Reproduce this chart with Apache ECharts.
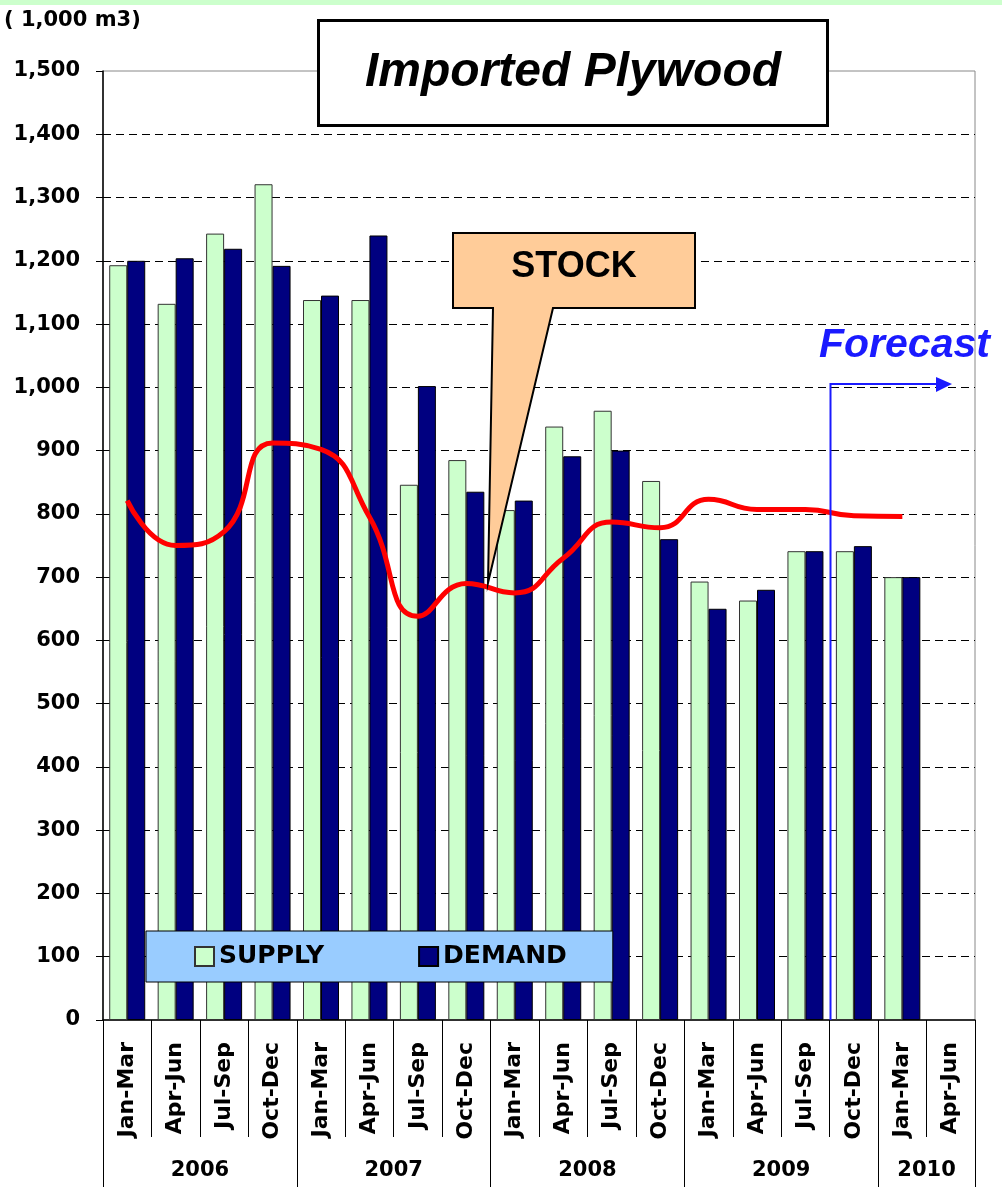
<!DOCTYPE html>
<html>
<head>
<meta charset="utf-8">
<title>Imported Plywood</title>
<script src="https://cdn.jsdelivr.net/npm/echarts@6/dist/echarts.min.js"></script>
<style>
  html, body { margin: 0; padding: 0; background: #fff; }
  #plywood { width: 1002px; height: 1192px; }
</style>
</head>
<body>
<div id="plywood"></div>
<script>
// quarters 2006 Q1 .. 2010 Q2
const quarters = ['Jan-Mar', 'Apr-Jun', 'Jul-Sep', 'Oct-Dec',
                  'Jan-Mar', 'Apr-Jun', 'Jul-Sep', 'Oct-Dec',
                  'Jan-Mar', 'Apr-Jun', 'Jul-Sep', 'Oct-Dec',
                  'Jan-Mar', 'Apr-Jun', 'Jul-Sep', 'Oct-Dec',
                  'Jan-Mar', 'Apr-Jun'];
const years = ['2006', '2007', '2008', '2009', '2010'];
const yearBounds = [0, 4, 8, 12, 16, 18];     // year separators, in quarter units
const yearCenters = [2, 6, 10, 14, 17];

const supply = [1193, 1132, 1243, 1321, 1138, 1138, 846, 885, 806, 938, 963, 852, 693, 663, 741, 741, 700, null];
const demand = [1200, 1204, 1219, 1192, 1145, 1240, 1002, 835, 821, 891, 900, 760, 650, 680, 741, 749, 700, null];
const stock  = [821, 750, 772, 912, 902, 795, 638, 690, 675, 730, 787, 778, 823, 807, 807, 797, 796, null];

const axisFont = 'DejaVu Sans';
const titleFont = '"Liberation Sans", Arial, sans-serif';

const option = {
    animation: false,
    backgroundColor: '#fff',
    title: [
        {
            text: 'Imported Plywood',
            left: 318, top: 20,
            padding: [29, 47],
            borderColor: '#000', borderWidth: 3,
            backgroundColor: '#fff',
            textStyle: { fontFamily: titleFont, fontSize: 48, fontWeight: 'bold', fontStyle: 'italic', color: '#000' }
        },
        {
            text: '( 1,000 m3)',
            left: 4, top: 10, padding: 0,
            textStyle: { fontFamily: axisFont, fontSize: 21, fontWeight: 'bold', color: '#000' }
        }
    ],
    legend: {
        data: ['SUPPLY', 'DEMAND'],
        left: 146, top: 931,
        padding: [13, 46, 13, 48],
        itemGap: 94,
        itemWidth: 19, itemHeight: 19,
        icon: 'rect',
        backgroundColor: '#99ccff',
        borderColor: '#000', borderWidth: 1,
        textStyle: { fontFamily: axisFont, fontSize: 25, fontWeight: 'bold', color: '#000' }
    },
    grid: {
        left: 103, right: 27, top: 71, bottom: 172,
        show: true, borderColor: '#888', borderWidth: 1,
        outerBoundsMode: 'none'
    },
    xAxis: [
        {
            type: 'category',
            data: quarters,
            axisLine: { lineStyle: { color: '#000', width: 1.5 } },
            axisTick: { show: true, interval: 0, length: 117, lineStyle: { color: '#000', width: 1 } },
            axisLabel: {
                interval: 0, rotate: 90, margin: 22,
                fontFamily: axisFont, fontSize: 22, fontWeight: 'bold', color: '#000'
            }
        },
        {
            type: 'value',
            min: 0, max: 18,
            position: 'bottom', offset: 0,
            axisLine: { show: false },
            splitLine: { show: false },
            axisTick: { show: true, customValues: yearBounds, length: 167, lineStyle: { color: '#000', width: 1 } },
            axisLabel: {
                customValues: yearCenters,
                margin: 140,
                formatter: v => years[yearCenters.indexOf(v)] || '',
                fontFamily: axisFont, fontSize: 21, fontWeight: 'bold', color: '#000'
            }
        }
    ],
    yAxis: {
        type: 'value',
        min: 0, max: 1500, interval: 100,
        axisLine: { show: true, lineStyle: { color: '#000', width: 1.5 } },
        axisTick: { show: true, length: 7, lineStyle: { color: '#000' } },
        axisLabel: {
            margin: 23,
            formatter: v => v.toLocaleString('en-US'),
            fontFamily: axisFont, fontSize: 21, fontWeight: 'bold', color: '#000'
        },
        splitLine: {
            show: true, showMinLine: false, showMaxLine: false,
            lineStyle: { color: '#000', type: [8, 5], width: 1 }
        }
    },
    series: [
        {
            name: 'SUPPLY', type: 'bar', data: supply,
            barWidth: 18, barGap: '0%',
            itemStyle: { color: '#ccffcc', borderColor: '#333', borderWidth: 1 }
        },
        {
            name: 'DEMAND', type: 'bar', data: demand,
            barWidth: 18,
            itemStyle: { color: '#000080', borderColor: '#000', borderWidth: 1 }
        },
        {
            name: 'STOCK', type: 'line', data: stock,
            smooth: 0.5, symbol: 'none', connectNulls: false,
            lineStyle: { color: '#ff0000', width: 5 },
            z: 5
        }
    ],
    graphic: [
        { type: 'rect', left: 0, top: 0, shape: { width: 1002, height: 5 }, style: { fill: '#ccffcc' }, z: 100 },
        // STOCK callout
        {
            type: 'polygon', z: 100,
            shape: { points: [[453, 233], [695, 233], [695, 308], [553, 308], [488, 583], [493, 308], [453, 308]] },
            style: { fill: '#ffcc99', stroke: '#000', lineWidth: 2 }
        },
        {
            type: 'text', z: 101, x: 574, y: 267,
            style: { text: 'STOCK', fontFamily: titleFont, fontSize: 36, fontWeight: 'bold', fill: '#000', align: 'center', verticalAlign: 'middle' }
        },
        // Forecast marker
        {
            type: 'polyline', z: 100,
            shape: { points: [[830.5, 1020], [830.5, 384], [938, 384]] },
            style: { stroke: '#1a1aff', lineWidth: 2, fill: null }
        },
        {
            type: 'polygon', z: 100,
            shape: { points: [[936, 377], [952, 384], [936, 392]] },
            style: { fill: '#1a1aff' }
        },
        {
            type: 'text', z: 101, x: 819, y: 346,
            style: { text: 'Forecast', fontFamily: titleFont, fontSize: 41, fontWeight: 'bold', fontStyle: 'italic', fill: '#1a1aff', align: 'left', verticalAlign: 'middle' }
        }
    ]
};

const chart = echarts.init(document.getElementById('plywood'));
chart.setOption(option);
window.addEventListener('resize', function () {
    chart.resize();
});
</script>
</body>
</html>
